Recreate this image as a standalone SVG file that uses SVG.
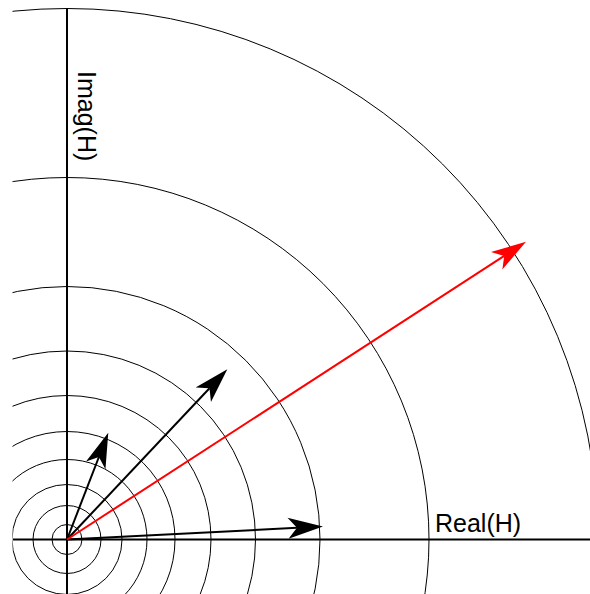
<svg xmlns="http://www.w3.org/2000/svg" width="590" height="594" viewBox="0 0 590 594">
  <style>
    .ring { fill: none; stroke: #000; stroke-width: 1; }
    .axis { fill: none; stroke: #000; stroke-width: 2; }
    .vec { fill: none; stroke: #000; stroke-width: 2; marker-end: url(#headK); }
    .vec-red { fill: none; stroke: #ff0000; stroke-width: 2; marker-end: url(#headR); }
    .lbl { font-family: "Liberation Sans", Arial, sans-serif; font-size: 25px; fill: #000; }
  </style>
  <defs>
    <clipPath id="plot">
      <rect x="12.5" y="0" width="578" height="594"/>
    </clipPath>
    <marker id="headK" markerUnits="userSpaceOnUse" viewBox="0 -11 36 22" refX="9" refY="0" markerWidth="36" markerHeight="22" orient="auto">
      <path d="M35,0 L0,-10.5 L9,0 L0,10.5 Z" fill="#000"/>
    </marker>
    <marker id="headR" markerUnits="userSpaceOnUse" viewBox="0 -11 36 22" refX="9" refY="0" markerWidth="36" markerHeight="22" orient="auto">
      <path d="M35,0 L0,-10.5 L9,0 L0,10.5 Z" fill="#ff0000"/>
    </marker>
  </defs>
  <rect width="590" height="594" fill="#fff"/>
  <g id="rings" clip-path="url(#plot)">
    <circle class="ring" cx="67" cy="539.5" r="15"/>
    <circle class="ring" cx="67" cy="539.5" r="34"/>
    <circle class="ring" cx="67" cy="539.5" r="55"/>
    <circle class="ring" cx="67" cy="539.5" r="80"/>
    <circle class="ring" cx="67" cy="539.5" r="108"/>
    <circle class="ring" cx="67" cy="539.5" r="144"/>
    <circle class="ring" cx="67" cy="539.5" r="188.5"/>
    <circle class="ring" cx="67" cy="539.5" r="253"/>
    <circle class="ring" cx="67" cy="539.5" r="362"/>
    <circle class="ring" cx="67" cy="539.5" r="531"/>
  </g>
  <g id="axes">
    <line class="axis" x1="13" y1="539.5" x2="590" y2="539.5"/>
    <line class="axis" x1="67" y1="9" x2="67" y2="594"/>
    <text class="lbl" x="435" y="531.5">Real(H)</text>
    <text class="lbl" transform="translate(78,71) rotate(90)">Imag(H)</text>
  </g>
  <g id="connectors">
    <line class="vec" x1="67" y1="539.5" x2="297" y2="527.8"/>
    <line class="vec" x1="67" y1="539.5" x2="98.9" y2="457"/>
    <line class="vec" x1="67" y1="539.5" x2="209.5" y2="388.2"/>
    <line class="vec-red" x1="67" y1="539.5" x2="504.2" y2="255.9"/>
  </g>
</svg>
